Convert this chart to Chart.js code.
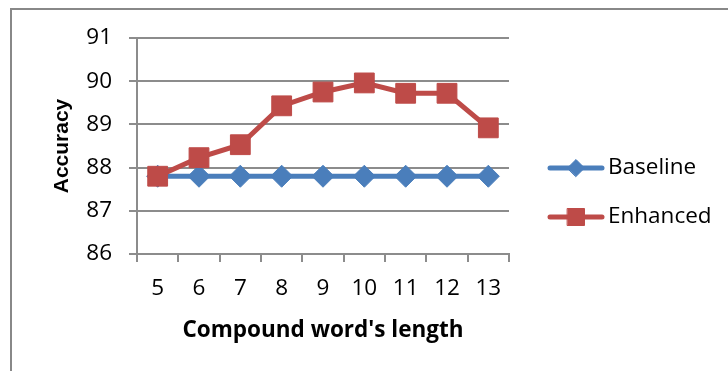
<!DOCTYPE html>
<html lang="en">
<head>
   <meta charset="UTF-8">
   <title>Accuracy vs compound word length</title>
   <script src="https://cdn.jsdelivr.net/npm/chart.js"></script>
   <style>
       body, html {
           margin: 0;
           padding: 0;
           background-color: white;
           overflow: hidden;
       }

       .frame {
           position: absolute;
           left: 10px;
           top: 8px;
           width: 800px;
           height: 450px;
           border: 2px solid #888;
       }

       .chart-box {
           position: absolute;
           left: 0;
           top: 0;
           width: 728px;
           height: 371px;
       }
   </style>
</head>
<body>

   <div class="frame"></div>
   <div class="chart-box">
       <canvas id="line-chart" width="728" height="371"></canvas>
   </div>

   <script>
    const wordLengths = ['5', '6', '7', '8', '9', '10', '11', '12', '13'];
    const baselineAcc = [87.8, 87.8, 87.8, 87.8, 87.8, 87.8, 87.8, 87.8, 87.8];
    const enhancedAcc = [87.8, 88.23, 88.53, 89.43, 89.75, 89.96, 89.72, 89.72, 88.92];

    const blue = '#4a7ebb';
    const red = '#be4b48';
    const gridColor = '#8c8c8c';
    const tickFont = { family: 'Open Sans', size: 22.5 };

    // legend drawn by hand so each entry shows line + marker like the original
    const sideLegend = {
        id: 'sideLegend',
        afterDraw(chart) {
            const ctx = chart.ctx;
            const rows = [
                { label: 'Baseline', color: blue, style: 'rectRot', radius: 8.5, y: 168 },
                { label: 'Enhanced', color: red, style: 'rect', radius: 12, y: 217 }
            ];
            ctx.save();
            rows.forEach(row => {
                ctx.strokeStyle = row.color;
                ctx.lineWidth = 5;
                ctx.lineCap = 'round';
                ctx.beginPath();
                ctx.moveTo(550, row.y);
                ctx.lineTo(602, row.y);
                ctx.stroke();
                ctx.fillStyle = row.color;
                ctx.lineWidth = 1;
                Chart.helpers.drawPoint(ctx, { pointStyle: row.style, radius: row.radius, borderWidth: 1 }, 576, row.y);
                ctx.fillStyle = '#000';
                ctx.font = '22.5px "Open Sans"';
                ctx.textAlign = 'left';
                ctx.textBaseline = 'middle';
                ctx.fillText(row.label, 608, row.y);
            });
            ctx.restore();
        }
    };

    const lineCtx = document.getElementById('line-chart').getContext('2d');

    const lineChart = new Chart(lineCtx, {
        type: 'line',
        data: {
            labels: wordLengths,
            datasets: [{
                label: 'Baseline',
                data: baselineAcc,
                borderColor: blue,
                backgroundColor: blue,
                borderWidth: 5,
                pointStyle: 'rectRot',
                pointRadius: 11,
                pointBorderWidth: 1,
                order: 1
            }, {
                label: 'Enhanced',
                data: enhancedAcc,
                borderColor: red,
                backgroundColor: red,
                borderWidth: 5,
                pointStyle: 'rect',
                pointRadius: 14,
                pointBorderWidth: 1,
                order: 0
            }]
        },
        options: {
            responsive: false,
            animation: false,
            layout: {
                padding: { left: 0, right: 219, top: 38, bottom: 0 }
            },
            plugins: {
                legend: { display: false },
                tooltip: { enabled: false }
            },
            scales: {
                x: {
                    offset: true,
                    grid: {
                        offset: true,
                        drawOnChartArea: false,
                        drawTicks: true,
                        tickLength: 8,
                        color: gridColor,
                        lineWidth: 2
                    },
                    border: { color: gridColor, width: 2 },
                    ticks: { font: tickFont, color: '#000', padding: 13, maxRotation: 0 },
                    title: {
                        display: true,
                        text: "Compound word's length",
                        font: { family: 'Open Sans', size: 22.5, weight: 'bold' },
                        color: '#000',
                        padding: { top: 27, bottom: 27 }
                    },
                    afterFit(scale) { scale.height = 117; }
                },
                y: {
                    min: 86,
                    max: 91,
                    ticks: { stepSize: 1, font: tickFont, color: '#000', padding: 17 },
                    grid: {
                        color: gridColor,
                        lineWidth: 2,
                        drawTicks: true,
                        tickLength: 8
                    },
                    border: { color: gridColor, width: 2 },
                    title: {
                        display: true,
                        text: 'Accuracy',
                        font: { family: 'Liberation Sans', size: 21, weight: 'bold' },
                        color: '#000',
                        padding: { top: 50, bottom: 50 }
                    },
                    afterFit(scale) { scale.width = 137; }
                }
            }
        },
        plugins: [sideLegend]
    });
   </script>
</body>
</html>
